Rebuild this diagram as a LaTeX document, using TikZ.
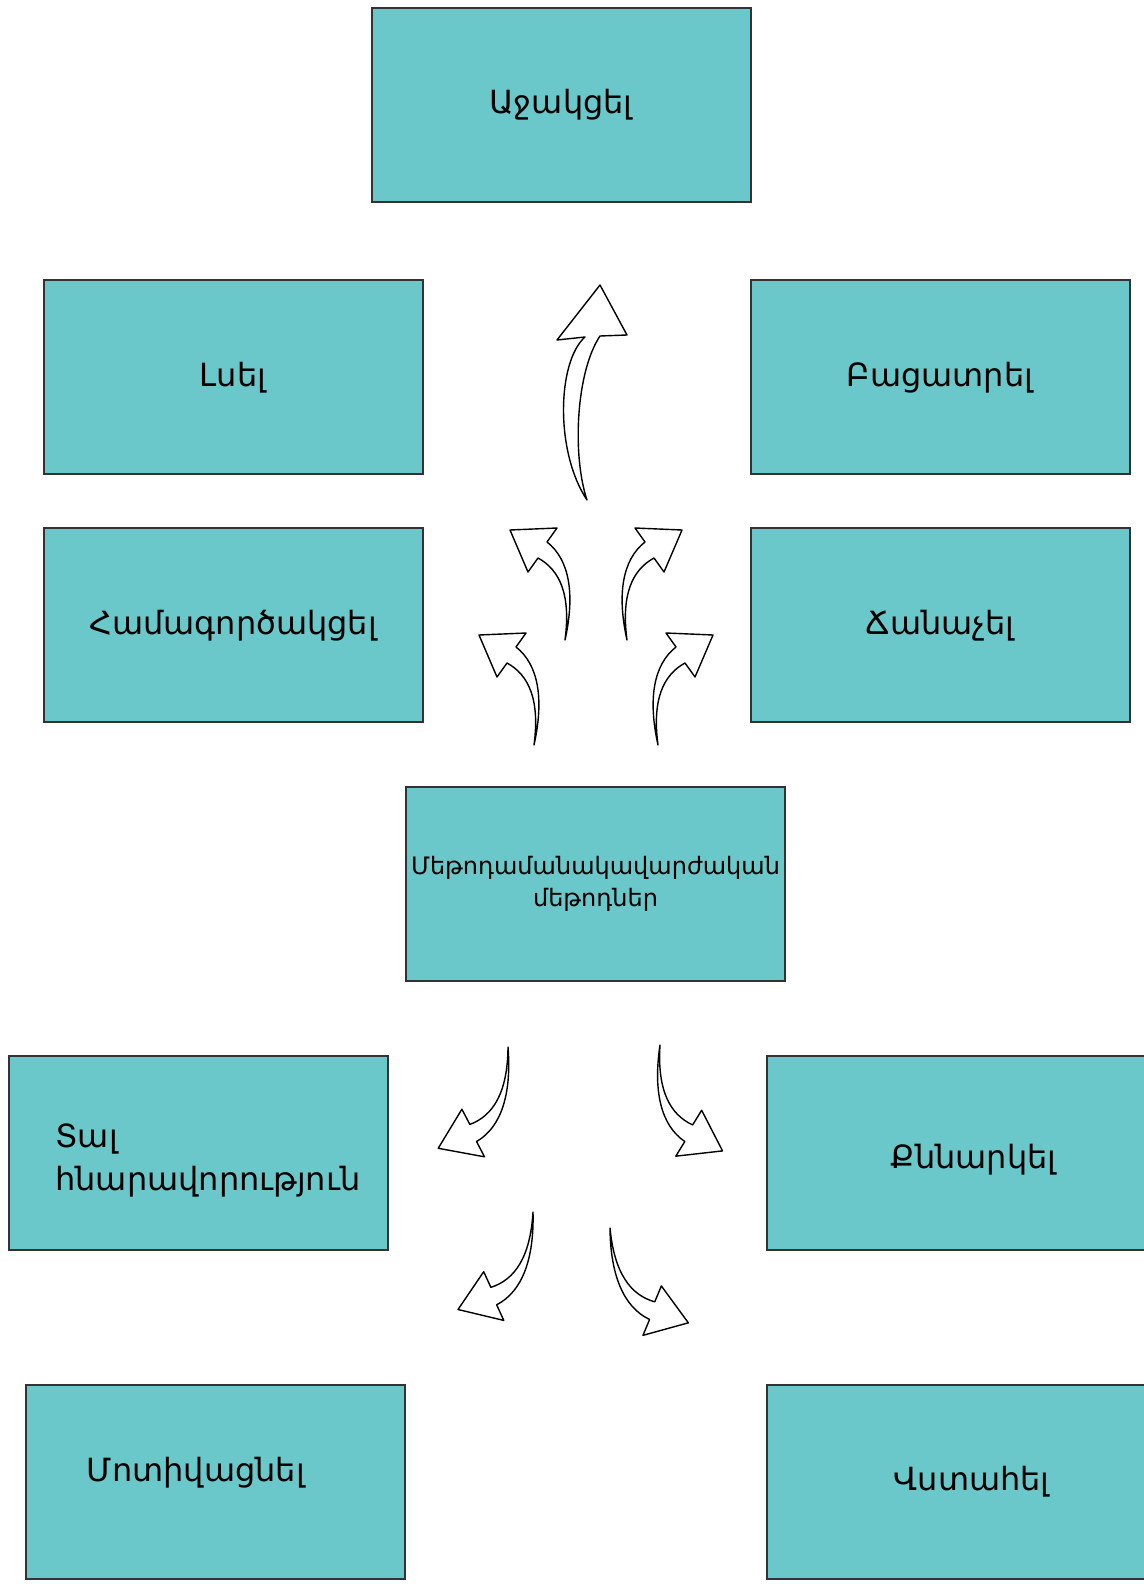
\documentclass[tikz,border=0pt]{standalone}
\usepackage{fontspec}
\newfontfamily\armfont{DejaVu Sans}
\definecolor{boxteal}{RGB}{107,200,202}
\tikzset{
  box/.style={draw=black!80, line width=1pt, fill=boxteal,
    minimum width=189.5pt, minimum height=97pt, inner sep=0pt,
    font=\armfont\fontsize{16}{19}\selectfont},
  lbl/.style={inner sep=0pt, align=left, font=\armfont\fontsize{16}{21.2}\selectfont},
  arrowline/.style={draw=black, fill=white, line width=0.7pt, line join=round},
  bentarrow/.pic={
    \path[arrowline] (0,0) .. controls (10,-45) and (5,-80) .. (-18,-98)
      -- (-8,-112) -- (-55,-110) -- (-37,-68) -- (-27,-82)
      .. controls (-5,-70) and (6,-45) .. cycle;
  }
}
\begin{document}
\begin{tikzpicture}[x=0.5pt,y=-0.5pt]
    \useasboundingbox (0,0) rectangle (1144,1584);
    % boxes
    \node[box] (ajakcel) at (561,105) {Աջակցել};
    \node[box] (lsel) at (233,377.3) {Լսել};
    \node[box] (bacatrel) at (940,377.3) {Բացատրել};
    \node[box] (hamag) at (233,625.3) {Համագործակցել};
    \node[box] (chanachel) at (940,625.3) {Ճանաչել};
    \node[box, align=center, font=\armfont\fontsize{12}{16}\selectfont] (metod) at (595.5,883.8)
      {Մեթոդամանակավարժական\\մեթոդներ};
    \node[box] (tal) at (198,1152.5) {};
    \node[box] (qnnarkel) at (956,1152.5) {};
    \node[box] (motiv) at (215.7,1481.9) {};
    \node[box] (vstahel) at (956,1481.9) {};
    % off-centre texts
    \node[lbl, anchor=west] (taltext) at ([xshift=23.7pt,yshift=-4pt]tal.west)
      {Տալ\\հնարավորություն};
    \node[lbl] (qnntext) at ([xshift=8.8pt,yshift=-3.5pt]qnnarkel.center) {Քննարկել};
    \node[lbl] (motivtext) at ([xshift=-9.9pt,yshift=4.6pt]motiv.center) {Մոտիվացնել};
    \node[lbl] (vsttext) at ([xshift=7.8pt]vstahel.center) {Վստահել};
    % big arrow
    \path[arrowline] (587,500) .. controls (572,455) and (576,372) .. (600,336)
      -- (627,335) -- (600,285) -- (557,340) -- (585,337)
      .. controls (557,362) and (555,452) .. cycle;
    % small arrows
    \pic at (565,640) {bentarrow};
    \pic at (534,745) {bentarrow};
    \pic[xscale=-1] at (627,640) {bentarrow};
    \pic[xscale=-1] at (658,745) {bentarrow};
    \pic[rotate=-8, yscale=-1] at (508,1047) {bentarrow};
    \pic[rotate=-11, yscale=-1] at (533,1212) {bentarrow};
    \pic[rotate=4, xscale=-1, yscale=-1] at (660,1045) {bentarrow};
    \pic[rotate=13, xscale=-1, yscale=-1] at (610,1228) {bentarrow};
\end{tikzpicture}
\end{document}
